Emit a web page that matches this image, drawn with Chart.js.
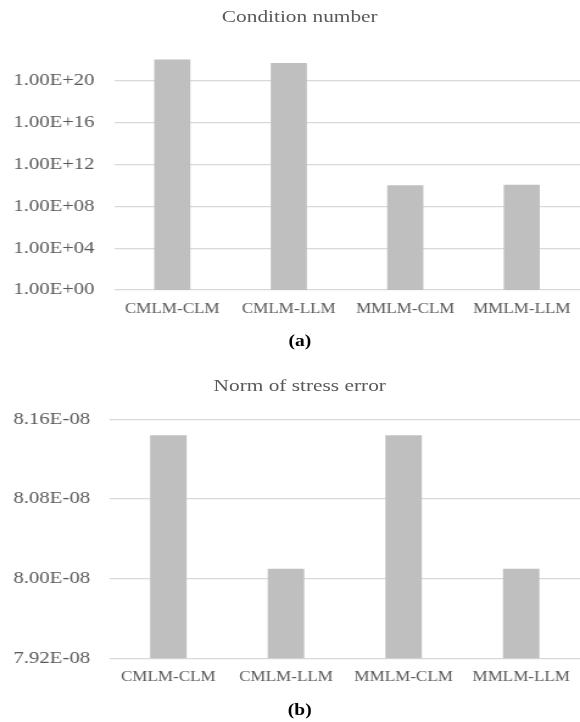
<!DOCTYPE html>
<html>
<head>
<meta charset="utf-8">
<script src="https://cdn.jsdelivr.net/npm/chart.js@4.4.0/dist/chart.umd.min.js"></script>
<style>
  html, body { margin: 0; padding: 0; background: #fff; overflow: hidden; }
  #page { position: relative; width: 476px; height: 722px; transform-origin: 0 0; transform: scaleX(1.2185); }
  .ttl { position: absolute; left: 0; width: 492px; text-align: center; font-family: "Liberation Serif", serif; color: #595959; }
  .cap { position: absolute; left: 0; width: 492px; text-align: center; font-family: "Liberation Serif", serif; font-weight: bold; color: #000; font-size: 16px; line-height: 18px; }
  canvas { position: absolute; left: 0; }
</style>
</head>
<body>
<div id="page">
  <div class="ttl" style="top:6px;font-size:17.5px;line-height:20px;">Condition number</div>
  <canvas id="cond" width="476" height="325" style="top:0px"></canvas>
  <div class="cap" style="top:332px;">(a)</div>
  <div class="ttl" style="top:375px;font-size:17.5px;line-height:20px;">Norm of stress error</div>
  <canvas id="stress" width="476" height="340" style="top:360px"></canvas>
  <div class="cap" style="top:701px;">(b)</div>
</div>
<script>
// data
const categories = ['CMLM-CLM', 'CMLM-LLM', 'MMLM-CLM', 'MMLM-LLM'];
const conditionNumber = [1.1e22, 5.3e21, 1.05e10, 1.2e10];
const stressError = [8.144e-8, 8.010e-8, 8.144e-8, 8.010e-8];
const condTicks = [1e0, 1e4, 1e8, 1e12, 1e16, 1e20];
const stressTicks = [7.92e-8, 8.00e-8, 8.08e-8, 8.16e-8];

// excel style 1.00E+20 / 8.16E-08
function sci(v) {
  const e = Math.floor(Math.log10(v) + 1e-9);
  const m = v / Math.pow(10, e);
  return m.toFixed(2) + 'E' + (e < 0 ? '-' : '+') + String(Math.abs(e)).padStart(2, '0');
}

const serif = '"Liberation Serif", serif';
const grey = '#595959';

function barConfig(values, yScale, yWidth, padTop, xHeight) {
  return {
    type: 'bar',
    data: {
      labels: categories,
      datasets: [{
        data: values,
        backgroundColor: '#bfbfbf',
        borderWidth: 0,
        barPercentage: 0.31,
        categoryPercentage: 1
      }]
    },
    options: {
      responsive: false,
      animation: false,
      devicePixelRatio: 1,
      layout: { padding: { top: padTop, left: 0, right: 0, bottom: 0 } },
      plugins: { legend: { display: false }, tooltip: { enabled: false } },
      scales: {
        x: {
          grid: { display: false },
          border: { display: false },
          ticks: { color: grey, font: { family: serif, size: 14 }, padding: 3, maxRotation: 0 },
          afterFit: function(s) { s.height = xHeight; }
        },
        y: Object.assign({
          border: { display: false },
          grid: { color: '#d9d9d9', lineWidth: 1.2, drawTicks: false },
          afterFit: function(s) { s.width = yWidth; }
        }, yScale)
      }
    }
  };
}

new Chart(document.querySelector('#cond'), barConfig(conditionNumber, {
  type: 'logarithmic',
  min: 1,
  max: 1e23,
  ticks: { color: grey, font: { family: serif, size: 17 }, padding: 16, callback: v => sci(v) },
  afterBuildTicks: function(s) { s.ticks = condTicks.map(v => ({ value: v })); }
}, 93.6, 49.6, 35));

new Chart(document.querySelector('#stress'), barConfig(stressError, {
  type: 'linear',
  min: 7.92e-8,
  max: 8.16e-8,
  ticks: { color: grey, font: { family: serif, size: 17 }, padding: 16, callback: v => sci(v) },
  afterBuildTicks: function(s) { s.ticks = stressTicks.map(v => ({ value: v })); }
}, 89.9, 59.3, 41.7));
</script>
</body>
</html>
